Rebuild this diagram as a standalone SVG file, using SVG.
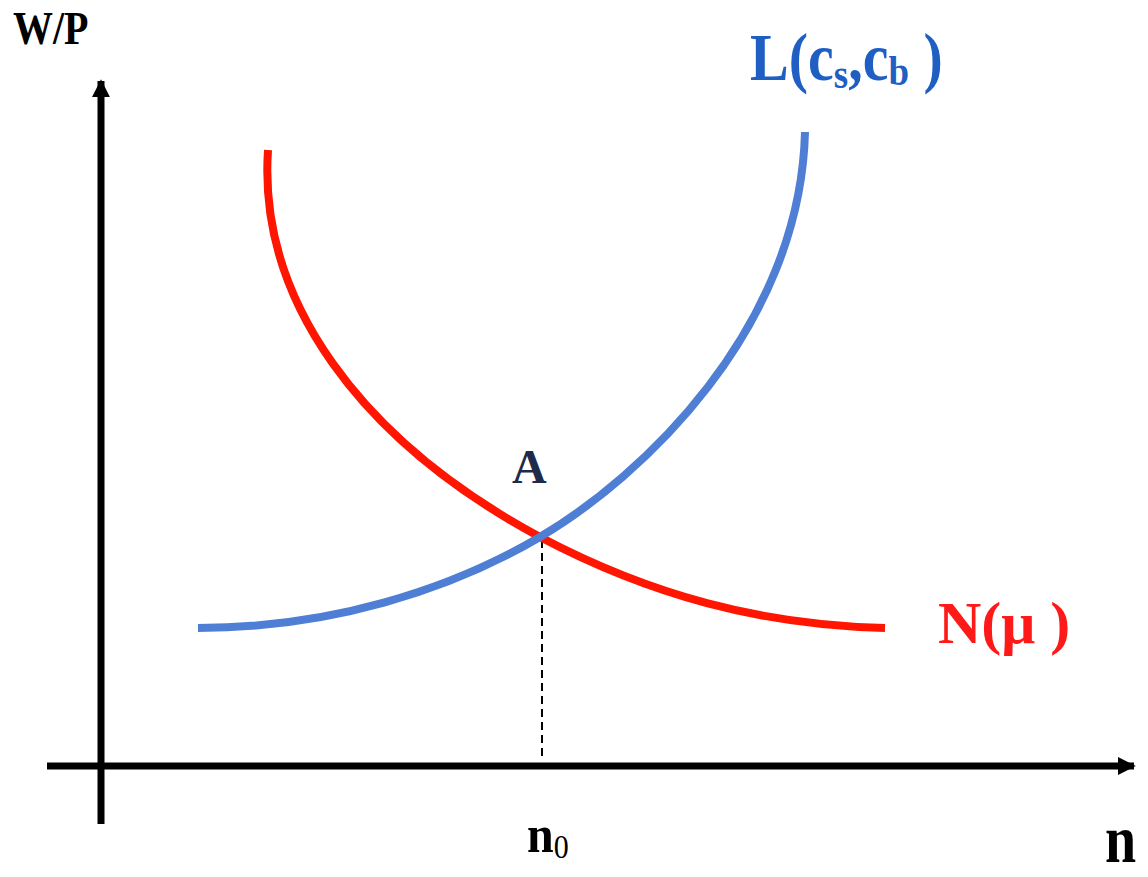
<svg xmlns="http://www.w3.org/2000/svg" width="1148" height="877" viewBox="0 0 1148 877">
<style>
text{font-family:"Liberation Serif","Times New Roman",serif;font-weight:bold}
.axis{stroke:#000;stroke-width:7;fill:none}
.curve{fill:none;stroke-width:8;stroke-linecap:butt}
</style>
<defs>
<marker id="ah" viewBox="0 0 10 10" refX="9" refY="5" markerWidth="2.6" markerHeight="2.6" orient="auto" markerUnits="strokeWidth">
<path d="M0,0 L10,5 L0,10 Z" fill="#000"/>
</marker>
</defs>
<rect width="1148" height="877" fill="#fff"/>
<g id="connectors">
<line id="y-axis" class="axis" x1="101" y1="824" x2="101" y2="81" marker-end="url(#ah)"/>
<line id="x-axis" class="axis" x1="47" y1="766" x2="1134" y2="766" marker-end="url(#ah)"/>
<line id="drop" x1="542" y1="540" x2="542" y2="760" stroke="#000" stroke-width="2" stroke-dasharray="8,5"/>
<path id="N-curve" class="curve" stroke="#ff1500" d="M268,150 C258,300 360,440 540,537 C650,595 760,625 885,628"/>
<path id="L-curve" class="curve" stroke="#4f7fd4" d="M198,628 C330,628 450,590 540,537 C640,478 800,330 805,132"/>
</g>
<g id="label-WP"><text transform="translate(13,44) scale(1,1.15)" font-size="40" fill="#000">W/P</text></g>
<g id="label-L"><text transform="translate(750,80) scale(1,1.15)" font-size="58" fill="#1f5fc4">L(c<tspan font-size="37" dy="7">s</tspan><tspan dy="-7">,c</tspan><tspan font-size="37" dy="4">b</tspan><tspan dy="-4"> )</tspan></text></g>
<g id="label-A"><text x="512" y="483" font-size="48" fill="#1e2a4a">A</text></g>
<g id="label-N"><text x="938" y="643" font-size="60" fill="#ff1a1a">N(μ )</text></g>
<g id="label-n0"><text transform="translate(527,852) scale(1,1.12)" font-size="48" fill="#000">n<tspan font-size="30" font-weight="normal" dy="5">0</tspan></text></g>
<g id="label-n"><text transform="translate(1105,862) scale(1,1.2)" font-size="56" fill="#000">n</text></g>
</svg>
